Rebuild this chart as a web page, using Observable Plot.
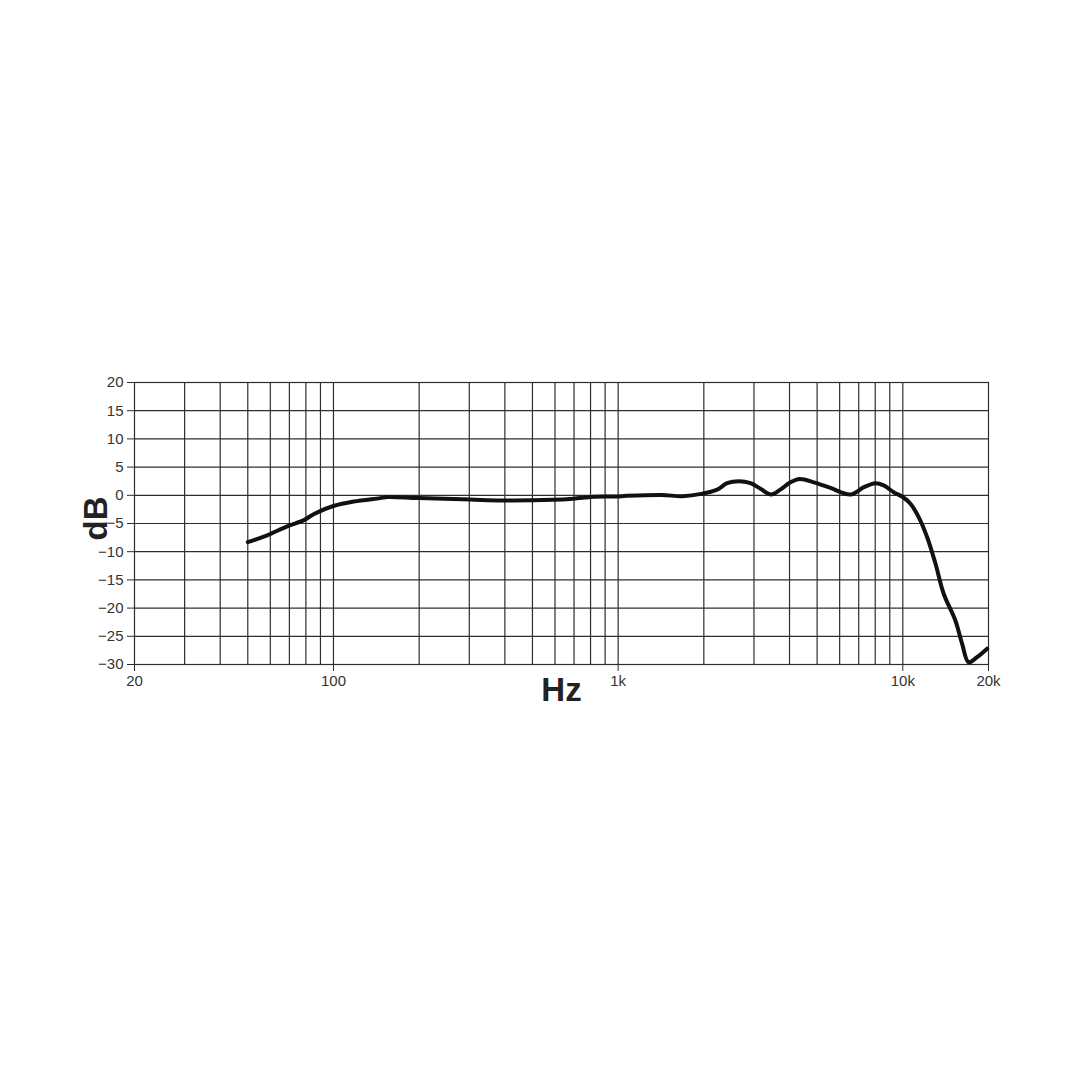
<!DOCTYPE html>
<html>
<head>
<meta charset="utf-8">
<script src="https://cdn.jsdelivr.net/npm/d3@7"></script>
<script src="https://cdn.jsdelivr.net/npm/@observablehq/plot@0.6"></script>
<style>
  html, body { margin: 0; padding: 0; background: #fff; }
  #chart svg { display: block; }
</style>
</head>
<body>
<div id="chart"></div>
<script>
// Frequency response (Hz, dB)
const freqs = [50, 58.5, 68.8, 78.7, 85.5, 100, 117.8, 146, 155, 198.5, 303, 391, 589, 696, 820, 985, 1070, 1420, 1685, 1960,
  2228, 2415, 2655, 2917, 3164, 3447, 3710, 4030, 4345, 4870, 5570, 6550, 7300, 8010, 8570, 9290, 10000,
  10640, 11380, 12170, 13020, 13930, 15300, 16150, 17030, 18230, 19780];
const dbs = [-8.3, -7.1, -5.5, -4.4, -3.3, -1.9, -1.1, -0.5, -0.3, -0.5, -0.75, -0.9, -0.8, -0.6, -0.25, -0.2, -0.1, 0.05, -0.15, 0.25,
  1.0, 2.15, 2.5, 2.15, 1.15, 0.15, 1.0, 2.3, 2.9, 2.3, 1.3, 0.15, 1.45, 2.15, 1.75, 0.55, -0.3,
  -1.5, -3.9, -7.4, -12.1, -17.5, -22.2, -26.3, -29.6, -28.7, -27.2];

// Axis ticks and grid
const xTicks = [20, 100, 1000, 10000, 20000];
const xTickLabels = ["20", "100", "1k", "10k", "20k"];
const xGrid = [30, 40, 50, 60, 70, 80, 90, 100, 200, 300, 400, 500, 600, 700, 800, 900, 1000,
  2000, 3000, 4000, 5000, 6000, 7000, 8000, 9000, 10000];
const yTicks = [-30, -25, -20, -15, -10, -5, 0, 5, 10, 15, 20];

const data = freqs.map((f, i) => ({f, db: dbs[i]}));
const font = "'Liberation Sans', Arial, Helvetica, sans-serif";
const ink = "#2e2e2e";

const chart = Plot.plot({
  width: 1080,
  height: 1080,
  marginLeft: 134,
  marginRight: 92,
  marginTop: 382,
  marginBottom: 416,
  style: {fontFamily: font, background: "#fff", color: ink},
  x: {type: "log", domain: [20, 20000]},
  y: {domain: [-30, 20]},
  marks: [
    Plot.ruleX(xGrid, {stroke: ink, strokeWidth: 1.2}),
    Plot.ruleY(yTicks, {stroke: ink, strokeWidth: 1.2}),
    Plot.frame({stroke: ink, strokeWidth: 1.2}),
    Plot.axisX({
      ticks: xTicks,
      tickFormat: (d) => xTickLabels[xTicks.indexOf(d)],
      tickSize: 7,
      tickPadding: 4,
      fontSize: 15,
      label: null,
      stroke: ink,
      fill: "#333"
    }),
    Plot.axisY({
      ticks: yTicks,
      tickSize: 7,
      tickPadding: 4,
      fontSize: 15,
      label: null,
      stroke: ink,
      fill: "#333"
    }),
    Plot.line(data, {x: "f", y: "db", stroke: "#111", strokeWidth: 4, curve: "catmull-rom", strokeLinejoin: "round", strokeLinecap: "round"}),
    Plot.text(["dB"], {frameAnchor: "left", textAnchor: "middle", dx: -38, dy: -5, rotate: -90, fontSize: 33, fontWeight: "bold", fill: "#222", fontFamily: font}),
    Plot.text(["Hz"], {frameAnchor: "bottom", textAnchor: "middle", dy: 26, lineAnchor: "middle", fontSize: 33, fontWeight: "bold", fill: "#222", fontFamily: font})
  ]
});
document.getElementById("chart").appendChild(chart);
</script>
</body>
</html>
